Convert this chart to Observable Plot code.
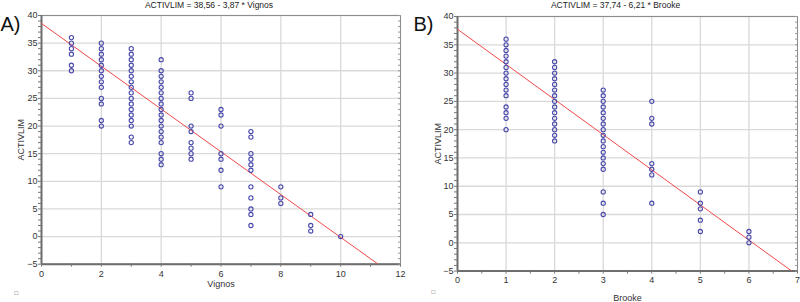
<!DOCTYPE html>
<html><head><meta charset="utf-8">
<script src="https://cdn.jsdelivr.net/npm/d3@7"></script>
<script src="https://cdn.jsdelivr.net/npm/@observablehq/plot@0.6"></script>
<style>
body{margin:0;background:#fff;}
#wrap{position:relative;width:800px;height:302px;overflow:hidden;}
#wrap svg{position:absolute;top:0;overflow:visible;}
</style></head><body><div id="wrap"></div>
<script>
// Panel A: ACTIVLIM score against Vignos grade
const vignosGrades = [1, 2, 3, 4, 5, 6, 7, 8, 9, 10];
const vignosActivlim = [
  [36, 35, 34, 33, 31, 30],
  [35, 34, 33, 32, 31, 30, 29, 28, 27, 25, 24, 21, 20],
  [34, 33, 32, 31, 30, 29, 28, 27, 26, 25, 24, 23, 22, 21, 20, 18, 17],
  [32, 30, 29, 28, 27, 26, 25, 24, 23, 22, 21, 20, 19, 18, 17, 15, 14, 13],
  [26, 25, 20, 19, 17, 16, 15, 14],
  [23, 22, 20, 15, 14, 12, 9],
  [19, 18, 15, 14, 13, 12, 9, 7, 5, 4, 2],
  [9, 7, 6],
  [4, 2, 1],
  [0]
];
const vignosIntercept = 38.56;
const vignosSlope = -3.87;
const vignosTicks = [0, 2, 4, 6, 8, 10, 12];

// Panel B: ACTIVLIM score against Brooke grade
const brookeGrades = [1, 2, 3, 4, 5, 6];
const brookeActivlim = [
  [36, 35, 34, 33, 32, 31, 30, 29, 28, 27, 26, 24, 23, 22, 20],
  [32, 31, 30, 29, 28, 27, 26, 25, 24, 23, 22, 21, 20, 19, 18],
  [27, 26, 25, 24, 23, 22, 21, 20, 19, 18, 17, 16, 15, 14, 13, 9, 7, 5],
  [25, 22, 21, 14, 13, 12, 7],
  [9, 7, 6, 4, 2],
  [2, 1, 0]
];
const brookeIntercept = 37.74;
const brookeSlope = -6.21;
const brookeTicks = [0, 1, 2, 3, 4, 5, 6, 7];

const activlimTicks = [-5, 0, 5, 10, 15, 20, 25, 30, 35, 40];

const FONT = "'Liberation Sans', Arial, sans-serif";
const GRID = "#d9d9d9";
const SPINE = "#6e6e6e";

function panel(o) {
  const rows = o.grades.flatMap((g, i) => o.activlim[i].map(v => ({grade: g, activlim: v})));
  const xMax = o.xTicks[o.xTicks.length - 1];
  const fit = [0, xMax].map(x => ({x, y: o.intercept + o.slope * x}));
  const yMinor = d3.range(-5, 40.5, 1);
  const plot = Plot.plot({
    width: o.width,
    height: 302,
    marginLeft: o.ml, marginRight: o.mr, marginTop: o.mt, marginBottom: o.mb,
    style: {fontFamily: FONT, fontSize: "9px", color: "#333", background: "transparent", overflow: "visible"},
    x: {domain: [0, xMax]},
    y: {domain: [-5, 40]},
    marks: [
      Plot.gridX(o.xTicks, {stroke: GRID, strokeOpacity: 1, strokeWidth: 1.3}),
      Plot.gridY(activlimTicks, {stroke: GRID, strokeOpacity: 1, strokeWidth: 1.3}),
      Plot.frame({stroke: "#8c8c8c", strokeWidth: 1}),
      Plot.ruleX([0], {stroke: SPINE, strokeWidth: 2}),
      Plot.ruleY([-5], {stroke: SPINE, strokeWidth: 2}),
      Plot.axisY(yMinor, {tickSize: 3, text: null, label: null, stroke: "#777"}),
      Plot.axisY(yMinor, {anchor: "right", tickSize: -3, text: null, label: null, stroke: "#999"}),
      Plot.axisY(activlimTicks, {tickSize: 0, tickPadding: 4, label: "ACTIVLIM", labelAnchor: "center", labelArrow: "none", labelOffset: o.yLabelOffset}),
      Plot.axisX(o.xMinor, {tickSize: 3, text: null, label: null, stroke: "#777"}),
      Plot.axisX(o.xTicks, {tickSize: 0, tickPadding: 6, label: o.xLabel, labelAnchor: "center", labelArrow: "none", labelOffset: o.xLabelOffset}),
      Plot.line(fit, {x: "x", y: "y", stroke: "#f0484a", strokeWidth: 1, clip: true}),
      Plot.dot(rows, {x: "grade", y: "activlim", r: 2.1, stroke: "#4848aa", strokeWidth: 1.1, fill: "none"}),
      Plot.text([o.title], {frameAnchor: "top", dx: -12, dy: o.titleDy, fontSize: 8.5, fill: "#222", lineAnchor: "middle"}),
      Plot.text([o.letter], {frameAnchor: "top-left", dx: o.letterDx, dy: o.letterDy, fontSize: 20, fill: "#111", textAnchor: "start", lineAnchor: "middle"}),
      Plot.text(["\u25A1"], {frameAnchor: "bottom-left", dx: o.markDx, dy: o.markDy, fontSize: 6, fill: "#444", lineAnchor: "middle"})
    ]
  });
  plot.style.left = o.left + "px";
  return plot;
}

const wrap = document.getElementById("wrap");
wrap.append(panel({
  grades: vignosGrades, activlim: vignosActivlim,
  intercept: vignosIntercept, slope: vignosSlope,
  xTicks: vignosTicks, xMinor: d3.range(0, 12.5, 1), xLabel: "Vignos",
  title: "ACTIVLIM = 38,56 - 3,87 * Vignos", letter: "A)",
  left: 0, width: 410, ml: 41, mr: 10, mt: 15, mb: 38.3,
  yLabelOffset: 24, xLabelOffset: 23,
  titleDy: -10, letterDx: -41, letterDy: 9,
  markDx: -27, markDy: 29
}));
wrap.append(panel({
  grades: brookeGrades, activlim: brookeActivlim,
  intercept: brookeIntercept, slope: brookeSlope,
  xTicks: brookeTicks, xMinor: d3.range(0, 7.25, 0.5), xLabel: "Brooke",
  title: "ACTIVLIM = 37,74 - 6,21 * Brooke", letter: "B)",
  left: 400, width: 400, ml: 57, mr: 3, mt: 16, mb: 31.4,
  yLabelOffset: 22.5, xLabelOffset: 30,
  titleDy: -11, letterDx: -44, letterDy: 8,
  markDx: -26, markDy: 20.5
}));
</script>
</body></html>
